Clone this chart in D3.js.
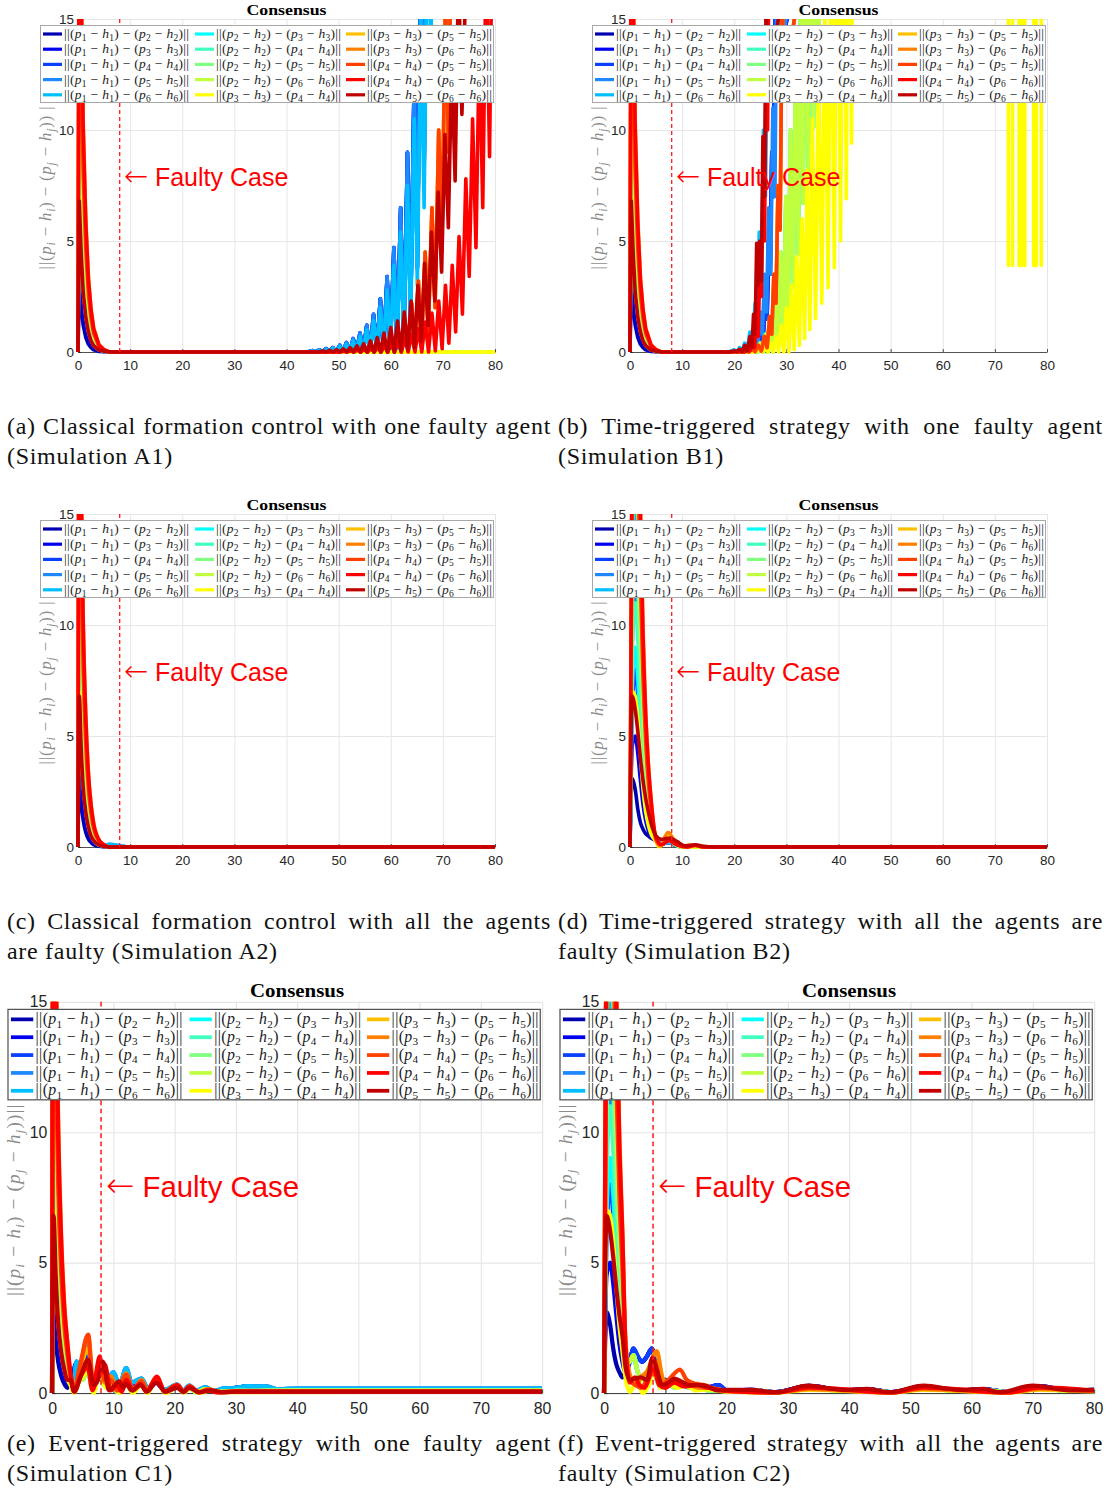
<!DOCTYPE html>
<html><head><meta charset="utf-8">
<script src="https://cdn.jsdelivr.net/npm/d3@7"></script>
<style>body{margin:0;background:#fff}svg{display:block}</style>
</head><body>
<svg id="fig" width="1118" height="1490"></svg>
<script>
// ---------------- DATA ----------------
const pairs = [[1,2],[1,3],[1,4],[1,5],[1,6],[2,3],[2,4],[2,5],[2,6],[3,4],[3,5],[3,6],[4,5],[4,6],[5,6]];
const seriesColors = ["#0000b0","#0000f0","#0a40ff","#1e88ff","#00bfff","#00ffff","#40ffc0","#80ff80","#c0ff40","#ffff00","#ffc000","#ff8000","#ff4000","#ff0000","#c00000"];
const xTicks = [0,10,20,30,40,50,60,70,80];
const yTicks = [0,5,10,15];
const faultTime = 8;

// initial transient (classical / time-triggered / event one-faulty)
const fastTimes = [0,0.25,0.6,1.0,1.5,2.0,2.5,3.0,4.0,5.0];
const fastValues = [
 [0,3.2,2.0,1.2,0.65,0.35,0.2,0.1,0.03,0.01],
 [0,5,3.3,2,1.15,0.65,0.38,0.21,0.07,0.02],
 [0,8,5.3,3.2,1.8,1.05,0.6,0.34,0.1,0.03],
 [0,12,7.9,4.8,2.8,1.6,0.9,0.5,0.16,0.05],
 [0,16,10.6,6.4,3.7,2.1,1.2,0.67,0.21,0.06],
 [0,9,5.9,3.6,2.1,1.2,0.68,0.38,0.12,0.04],
 [0,11,7.3,4.4,2.5,1.4,0.8,0.46,0.14,0.04],
 [0,14,9.2,5.6,3.2,1.8,1.05,0.59,0.18,0.06],
 [0,18,11.9,7.2,4.1,2.3,1.35,0.76,0.23,0.07],
 [0,7,4.6,2.8,1.6,0.9,0.53,0.29,0.09,0.03],
 [0,22,14.5,8.8,5.1,2.9,1.65,0.92,0.29,0.09],
 [0,26,17.2,10.4,6,3.4,1.95,1.1,0.34,0.1],
 [0,20,13.2,8,4.6,2.6,1.5,0.84,0.26,0.08],
 [0,25,16.5,10,5.75,3.25,1.9,1.05,0.33,0.1],
 [0,6.8,4.5,2.7,1.55,0.9,0.5,0.29,0.09,0.03]
];
// slower transient (all agents faulty cases)
const slowTimes = [0,0.4,1.0,1.5,2.0,2.5,3.0,3.5,4.0];
const slowValues = [
 [0,3.1,2.6,1.7,1.1,0.8,0.6,0.5,0.4],
 [0,4.5,5,4.2,3,1.9,1.2,0.75,0.45],
 [0,6,8,6.8,4.8,3,1.9,1.2,0.7],
 [0,9,12,10.2,7.2,4.6,2.9,1.8,1.1],
 [0,12,16,13.6,9.6,6.1,3.8,2.4,1.4],
 [0,6.8,9,7.6,5.4,3.4,2.2,1.35,0.8],
 [0,8.2,11,9.4,6.6,4.2,2.6,1.65,1.0],
 [0,10.5,14,11.9,8.4,5.3,3.4,2.1,1.26],
 [0,13.5,18,15.3,10.8,6.8,4.3,2.7,1.6],
 [0,7,6.8,5.8,4.1,2.6,1.6,1.0,0.6],
 [0,16.5,22,18.7,13.2,8.4,5.3,3.3,2.0],
 [0,19.5,26,22.1,15.6,9.9,6.2,3.9,2.3],
 [0,15,20,17,12,7.6,4.8,3.0,1.8],
 [0,18.8,25,21.3,15,9.5,6,3.75,2.25],
 [0,6.8,6.2,5.2,4.0,3.0,2.2,1.6,1.1]
];

// ---- (a) classical, one faulty agent ----
const tailA_zero = [[6,0],[80,0]];
const tailA_lightBlue = [[6,0],[44,0],[45.0,0.05],[45.6,0],[46.3,0.08],[46.9,0],[47.6,0.12],[48.2,0],[48.9,0.17],[49.5,0],[50.2,0.25],[50.8,0],[51.5,0.35],[52.1,0],[52.8,0.5],[53.4,0],[54.1,0.7],[54.7,0],[55.4,1.0],[56.0,0],[56.7,1.4],[57.3,0],[58.0,2.0],[58.6,0],[59.3,2.8],[59.9,0.05],[60.6,3.9],[61.2,0.1],[61.9,5.4],[62.5,0.3],[63.2,7.5],[63.8,1.0],[64.5,10.5],[65.1,3.0],[65.8,15],[66.4,6.5],[67.1,21],[67.7,13],[68.4,30],[69.0,25],[80,90]];
const tailA_blue = [[6,0],[44,0],[45.0,0.06],[45.6,0],[46.3,0.1],[46.9,0],[47.6,0.15],[48.2,0],[48.9,0.2],[49.5,0],[50.2,0.3],[50.8,0],[51.5,0.42],[52.1,0],[52.8,0.6],[53.4,0],[54.1,0.85],[54.7,0],[55.4,1.2],[56.0,0],[56.7,1.7],[57.3,0],[58.0,2.4],[58.6,0],[59.3,3.4],[59.9,0.05],[60.6,4.7],[61.2,0.1],[61.9,6.5],[62.5,0.4],[63.2,9],[63.8,1.3],[64.5,12.5],[65.1,3.8],[65.8,18],[66.4,8],[67.1,25],[67.7,16],[80,90]];
const tailA_orange = [[6,0],[50,0],[51.0,0.05],[51.6,0],[52.3,0.08],[52.9,0],[53.6,0.12],[54.2,0],[54.9,0.17],[55.5,0],[56.2,0.25],[56.8,0],[57.5,0.35],[58.1,0],[58.8,0.5],[59.4,0],[60.1,0.7],[60.7,0],[61.4,1.0],[62.0,0],[62.7,1.5],[63.3,0.05],[64.0,2.2],[64.6,0.1],[65.3,3.2],[65.9,0.3],[66.6,4.5],[67.2,0.8],[67.9,6.5],[68.5,2],[69.2,10],[69.8,4.5],[70.5,16],[71.1,9],[71.8,24],[72.4,18],[80,80]];
const tailA_red = [[6,0],[50,0],[51.0,0.03],[51.65,0],[52.3,0.05],[52.95,0],[53.6,0.08],[54.25,0],[54.9,0.11],[55.55,0],[56.2,0.15],[56.85,0],[57.5,0.2],[58.15,0],[58.8,0.27],[59.45,0],[60.1,0.36],[60.75,0],[61.4,0.48],[62.05,0],[62.7,0.62],[63.35,0],[64.0,0.8],[64.65,0],[65.3,1.05],[65.95,0],[66.6,1.35],[67.25,0],[67.9,1.75],[68.55,0.05],[69.2,2.3],[69.85,0.15],[70.5,3.0],[71.15,0.4],[71.8,3.9],[72.45,0.9],[73.1,5.2],[73.75,1.7],[74.4,7.8],[75.05,3.4],[75.7,10.5],[76.35,4.7],[77.0,14],[77.65,6.5],[78.3,18],[78.95,8.8],[79.6,22],[80,18]];
const tailA_darkRed = [[6,0],[46,0],[47.0,0.05],[47.65,0],[48.3,0.08],[48.95,0],[49.6,0.1],[50.25,0],[50.9,0.14],[51.55,0],[52.2,0.2],[52.85,0],[53.5,0.28],[54.15,0],[54.8,0.38],[55.45,0],[56.1,0.5],[56.75,0],[57.4,0.65],[58.05,0],[58.7,0.85],[59.35,0],[60.0,1.1],[60.65,0],[61.3,1.4],[61.95,0.05],[62.6,1.8],[63.25,0.1],[63.9,2.3],[64.55,0.2],[65.2,3.0],[65.85,0.5],[66.5,4.0],[67.15,1.2],[67.8,5.4],[68.45,2.3],[69.1,7.2],[69.75,3.6],[70.4,9.8],[71.05,5.6],[71.7,13],[72.35,7.7],[73.0,17],[73.65,10.7],[80,60]];

// ---- (b) time-triggered, one faulty agent ----
const tailB_darkBlue = [[6,0],[20,0],[21,0.05],[21.5,0],[22,0.12],[22.5,0],[23,0.25],[23.5,0.05],[24,0.5],[24.5,0.15],[25,1.0],[25.5,0.5],[26,2.5],[26.3,1.5],[26.6,5],[26.9,3.5],[27.2,9],[27.5,7],[27.8,15],[28.1,12],[80,90]];
const tailB_blue = [[6,0],[19,0],[20,0.05],[20.5,0],[21,0.1],[21.5,0],[22,0.2],[22.5,0.02],[23,0.4],[23.5,0.1],[24,0.9],[24.5,0.3],[25,1.8],[25.4,0.8],[25.8,3.5],[26.2,1.8],[26.6,6.5],[27,3.5],[27.4,11],[27.8,7],[28.2,18],[28.6,13],[80,90]];
const tailB_lightBlue = [[6,0],[19,0],[20,0.1],[20.5,0],[21,0.2],[21.5,0.02],[22,0.4],[22.5,0.1],[23,0.9],[23.5,0.3],[24,2.2],[24.4,1.0],[24.8,5.4],[25.2,3],[25.6,10],[26,7],[26.4,16],[26.8,12],[80,90]];
const tailB_yellowGreen = [[6,0],[22,0],[23,0.1],[23.5,0],[24,0.2],[24.5,0],[25,0.4],[25.5,0],[26,0.8],[26.4,0],[26.9,1.4],[27.4,0],[27.9,2.8],[28.4,0.2],[28.9,4.5],[29.4,0.6],[29.9,7],[30.3,1.5],[30.8,10],[31.3,2.9],[31.8,14],[32.3,4.4],[32.8,18],[33.2,6.7],[33.7,20],[34.2,8.0],[34.7,22],[35.2,10.1],[35.6,24],[36.1,10.9],[36.6,26],[37.1,16],[80,90]];
const tailB_yellow = [[6,0],[24,0],[25,0.1],[25.5,0],[26,0.2],[26.5,0],[27,0.4],[27.5,0],[28,0.7],[28.5,0],[29,1.2],[29.5,0],[30,2.0],[30.5,0],[31,3.0],[31.5,0.1],[32,4.3],[32.5,0.3],[33,6.0],[33.5,0.6],[34,8.2],[34.5,1.0],[35,10.5],[35.6,1.5],[36.2,13],[36.8,2.2],[37.4,16],[38.0,2.9],[38.6,20],[39.2,3.8],[39.8,24],[40.4,5.0],[41.0,28],[41.5,6.9],[42.0,32],[42.5,9.4],[43.0,36],[43.5,16],[44.0,40],
 [72.6,40],[72.6,3.9],[72.6,40],[73.4,40],[73.4,3.9],[73.4,40],
 [74.65,40],[74.65,3.9],[75.2,3.9],[75.2,40],[75.75,40],[75.75,3.9],[75.75,40],
 [77.45,40],[77.45,3.9],[77.95,3.9],[77.95,40],[78.9,40],[78.9,3.9],[78.9,40],[80,40]];
const tailB_orange = [[6,0],[20,0],[21,0.03],[21.6,0],[22.2,0.08],[22.8,0],[23.4,0.15],[24,0.02],[24.6,0.3],[25.2,0.05],[25.8,0.7],[26.3,0.2],[26.8,1.6],[27.2,0.8],[27.6,3.5],[28,2.2],[28.4,7.5],[28.8,5.5],[29.2,16],[29.6,12],[80,90]];
const tailB_red = [[6,0],[19.5,0],[20.5,0.05],[21,0],[21.5,0.1],[22,0],[22.5,0.25],[23,0.05],[23.5,0.6],[23.9,0.2],[24.3,1.5],[24.6,0.7],[24.9,3.8],[25.2,2.5],[25.5,7.5],[25.8,5],[26.1,13],[26.4,10],[26.7,20],[80,90]];
const tailB_darkRed = [[6,0],[19,0],[20,0.05],[20.5,0],[21,0.12],[21.5,0],[22,0.3],[22.5,0.05],[23,0.7],[23.4,0.2],[23.7,1.7],[24,0.8],[24.3,4.9],[24.6,3.0],[24.9,5.0],[25.2,3.2],[25.5,9.7],[25.8,7],[26.1,16],[26.4,12],[80,90]];

// ---- (c) classical, all agents faulty ----
const tailC_zero = [[6,0],[80,0]];
const tailC_blue = [[6,0.12],[7,0.1],[8,0.05],[9,0.02],[10,0],[80,0]];

// ---- (d) time-triggered, all agents faulty ----
const tailD_blue = [[5,0.3],[6,0.15],[7.5,0.2],[9,0.05],[10,0],[80,0]];
const tailD_green = [[5,0.35],[5.8,0.05],[7.2,0.45],[8.5,0.15],[10,0],[80,0]];
const tailD_yellow = [[5,0.25],[5.6,0],[7.3,0.55],[8.8,0.2],[10,0],[80,0]];
const tailD_orange = [[5,0.3],[5.8,0.05],[7.3,0.65],[8.5,0.3],[10,0.05],[12,0.08],[14,0.02],[16,0],[80,0]];
const tailD_red = [[5,0.4],[6,0.1],[7.5,0.3],[9,0.1],[11,0],[12.5,0.08],[14,0],[80,0]];
const tailD_darkRed = [[5,0.5],[6,0.35],[7.5,0.4],[9,0.25],[10.5,0.05],[12.5,0.1],[14,0.03],[16,0],[80,0]];

// ---- (e) event-triggered, one faulty agent ----
const tailE_darkBlue = [[3.0,0.75],[3.3,0.2],[3.8,1.1],[4.3,0.7],[5.0,1.1],[5.8,1.7],[6.5,0.3],[7.5,0.6],[8.3,1.0],[9.2,0.5],[10.0,0.75],[11.0,0.25],[12.1,0.85],[13.0,0.35],[14.6,0.5],[15.6,0.15],[17.0,0.4],[18.4,0.1],[20.4,0.3],[21.4,0.08],[22.4,0.25],[23.6,0.08],[25.0,0.2],[26.5,0.06],[28,0.15],[30,0.2],[32,0.25],[35,0.23],[37,0.12],[40,0.15],[80,0.15]];
const tailE_blue = [[3.0,0.5],[3.5,0.3],[4.0,1.2],[4.6,0.9],[5.2,1.6],[5.9,2.0],[6.6,0.4],[7.5,0.7],[8.3,1.1],[9.2,0.6],[10.0,0.8],[11.0,0.3],[12.1,0.95],[13.0,0.4],[14.6,0.55],[15.6,0.2],[17.0,0.45],[18.4,0.12],[20.4,0.32],[21.4,0.1],[22.4,0.28],[23.6,0.08],[25.0,0.22],[26.5,0.08],[28,0.18],[30,0.2],[32,0.26],[35,0.25],[37,0.14],[40,0.17],[80,0.17]];
const tailE_green = [[3.0,0.4],[3.5,0.1],[4.3,0.6],[5.0,0.5],[5.8,1.0],[6.6,0.1],[7.6,0.7],[8.5,0.3],[9.6,0.45],[10.6,0.05],[12,0.6],[13,0.1],[14.5,0.35],[15.5,0.05],[17,0.55],[18.5,0.05],[20.4,0.3],[21.4,0.03],[22.4,0.2],[23.5,0.03],[25,0.15],[27,0.05],[30,0.08],[40,0.1],[80,0.1]];
const tailE_yellow = [[3.0,0.3],[3.6,0],[4.5,0.5],[5.8,0.8],[6.8,0],[7.8,0.9],[8.8,0.2],[10,0.3],[11,0],[12,0.4],[13.2,0],[14.5,0.3],[15.6,0],[17,0.5],[18.5,0],[20.5,0.25],[21.5,0],[22.5,0.2],[24,0],[26,0.1],[28,0.03],[80,0.05]];
const tailE_amber = [[3.0,0.6],[3.6,0.1],[4.6,0.9],[5.9,1.7],[6.8,0.2],[7.8,1.2],[8.6,0.4],[9.6,0.6],[10.6,0.1],[12.1,0.7],[13.2,0.1],[14.6,0.45],[15.6,0.1],[17.1,0.5],[18.5,0.05],[20.4,0.3],[21.5,0.05],[22.4,0.25],[24,0.03],[25.5,0.15],[27,0.03],[30,0.05],[80,0.05]];
const tailE_orange = [[3.0,0.6],[3.6,0.15],[4.6,1.0],[5.9,2.2],[6.8,0.2],[7.8,1.3],[8.6,0.4],[9.6,0.65],[10.6,0.1],[12.1,0.75],[13.2,0.1],[14.6,0.5],[15.6,0.1],[17.1,0.55],[18.5,0.05],[20.4,0.3],[21.5,0.05],[22.4,0.25],[24,0.03],[25.5,0.15],[27,0.03],[30,0.05],[80,0.05]];
const tailE_redOrange = [[3.0,0.7],[3.6,0.2],[4.6,1.1],[5.9,2.24],[6.7,0.15],[7.8,1.25],[8.6,0.5],[9.6,0.5],[10.6,0.1],[12.1,0.7],[13.2,0.15],[14.6,0.45],[15.6,0.1],[17.1,0.55],[18.5,0.05],[20.4,0.3],[21.5,0.05],[22.4,0.25],[24,0.03],[25.5,0.12],[27,0.03],[30,0.05],[80,0.05]];
const tailE_red = [[3.0,0.8],[3.6,0.05],[4.8,0.7],[5.8,1.0],[6.6,0.1],[7.8,1.4],[8.2,0.8],[8.6,1.1],[9.6,0.1],[10.6,0.3],[11.4,0.05],[12.1,0.5],[13.2,0.1],[14.4,0.35],[15.4,0.05],[17.1,0.63],[18.4,0.05],[20.4,0.3],[21.5,0.05],[22.4,0.25],[24,0.02],[25.5,0.1],[27,0.02],[30,0.05],[80,0.05]];
const tailE_darkRed = [[3.0,0.5],[3.6,0.05],[4.6,0.6],[5.9,1.27],[6.8,0.3],[7.5,0.5],[8.3,1.2],[9.3,0.1],[11,0.45],[11.6,0.2],[12.1,0.35],[13,0.1],[14.5,0.3],[15.5,0.05],[17.0,0.4],[18.5,0.05],[20.4,0.2],[21.5,0.03],[22.4,0.2],[24,0.03],[26,0.1],[28,0.03],[30,0.05],[80,0.05]];

// ---- (f) event-triggered, all agents faulty ----
const tailF_blue = [[3.5,0.8],[4.2,1.2],[4.8,1.7],[5.5,1.4],[6.2,1.2],[7.0,1.4],[7.8,1.7],[8.5,0.9],[9.2,0.3],[10,0.5],[11,0.3],[12,0.4],[13.5,0.25],[15,0.3],[16.5,0.2],[18.7,0.3],[20,0.1],[24,0.12],[28,0.03],[33.5,0.27],[39,0.1],[43,0.15],[47,0.03],[52,0.25],[58,0.1],[62,0.15],[66,0.03],[71,0.26],[76,0.1],[80,0.12]];
const tailF_cyan = [[3.5,1.2],[4.2,1.2],[4.8,1.45],[5.5,0.8],[6.2,0.5],[7.0,0.8],[7.8,1.1],[8.5,0.6],[9.2,0.2],[10.5,0.4],[11.5,0.2],[12.5,0.45],[14,0.2],[15.5,0.25],[17,0.1],[20,0.1],[24,0.1],[28,0.02],[33.5,0.2],[39,0.08],[43,0.12],[47,0.02],[52,0.2],[58,0.08],[62,0.12],[66,0.02],[71,0.2],[76,0.08],[80,0.1]];
const tailF_yellow = [[3.5,0.6],[4.2,0.05],[5.5,0.5],[6.3,0.0],[7.3,0.3],[8.3,1.0],[9.2,0.2],[10.5,0.4],[12,0.2],[13.5,0.3],[15,0.1],[17,0.15],[20,0.05],[28,0.02],[33.5,0.12],[47,0.02],[52,0.12],[66,0.02],[71,0.12],[80,0.06]];
const tailF_orange = [[3.5,2.0],[4.2,0.7],[5.2,0.3],[6.0,0.6],[7.0,0.8],[8.6,1.6],[9.5,0.6],[10.5,0.3],[11.5,0.5],[12.5,0.35],[14,0.3],[15.5,0.2],[17,0.2],[20,0.08],[28,0.02],[33.5,0.15],[47,0.02],[52,0.15],[66,0.02],[71,0.15],[80,0.08]];
const tailF_redOrange = [[3.5,1.8],[4.2,0.5],[5.2,0.3],[6.0,0.2],[7.0,0.5],[8.3,1.2],[9.3,0.3],[10.5,0.5],[12.4,0.9],[13.5,0.5],[15,0.35],[16.5,0.3],[18,0.15],[20,0.08],[28,0.02],[33.5,0.2],[47,0.02],[52,0.2],[66,0.02],[71,0.2],[80,0.08]];
const tailF_red = [[3.5,1.8],[4.2,0.4],[5.0,0.6],[5.8,0.3],[6.6,0.2],[7.4,0.6],[8.0,1.0],[9.0,0.3],[10,0.2],[11.5,0.4],[13,0.25],[15,0.3],[17,0.2],[20,0.08],[28,0.02],[33.5,0.22],[47,0.02],[52,0.22],[66,0.02],[71,0.22],[80,0.1]];
const tailF_darkRed = [[3.5,1.0],[4.2,0.5],[5.0,0.55],[6.0,0.6],[7.0,0.5],[7.9,1.35],[8.6,0.9],[9.5,0.3],[10.5,0.4],[11.5,0.55],[12.5,0.45],[14,0.3],[15.5,0.3],[17,0.25],[18.5,0.1],[20,0.12],[24,0.12],[28,0.03],[33.3,0.28],[39,0.12],[43,0.16],[46.5,0.03],[52.2,0.28],[58,0.12],[62,0.16],[64.5,0.03],[70,0.28],[76,0.1],[80,0.12]];

// which tail each of the 15 series uses, per panel
const tailsA = [tailA_blue,tailA_blue,tailA_blue,tailA_blue,tailA_lightBlue,tailA_zero,tailA_zero,tailA_zero,tailA_zero,tailA_zero,tailA_orange,tailA_orange,tailA_orange,tailA_red,tailA_darkRed];
const tailsB = [tailB_darkBlue,tailB_darkBlue,tailB_darkBlue,tailB_blue,tailB_lightBlue,tailB_yellowGreen,tailB_yellowGreen,tailB_yellowGreen,tailB_yellowGreen,tailB_yellow,tailB_orange,tailB_orange,tailB_orange,tailB_red,tailB_darkRed];
const tailsC = [tailC_zero,tailC_zero,tailC_zero,tailC_blue,tailC_blue,tailC_zero,tailC_zero,tailC_zero,tailC_zero,tailC_zero,tailC_zero,tailC_zero,tailC_zero,tailC_zero,tailC_zero];
const tailsD = [tailD_blue,tailD_blue,tailD_blue,tailD_blue,tailD_blue,tailD_green,tailD_green,tailD_green,tailD_green,tailD_yellow,tailD_orange,tailD_orange,tailD_red,tailD_red,tailD_darkRed];
const tailsE = [tailE_darkBlue,tailE_darkBlue,tailE_blue,tailE_blue,tailE_blue,tailE_green,tailE_green,tailE_green,tailE_green,tailE_yellow,tailE_amber,tailE_orange,tailE_redOrange,tailE_red,tailE_darkRed];
const tailsF = [tailF_blue,tailF_blue,tailF_blue,tailF_cyan,tailF_cyan,tailF_cyan,tailF_cyan,tailF_cyan,tailF_cyan,tailF_yellow,tailF_orange,tailF_orange,tailF_redOrange,tailF_red,tailF_darkRed];

const captionLines = [
 ["(a) Classical formation control with one faulty agent","(Simulation A1)"],
 ["(b) Time-triggered strategy with one faulty agent","(Simulation B1)"],
 ["(c) Classical formation control with all the agents","are faulty (Simulation A2)"],
 ["(d) Time-triggered strategy with all the agents are","faulty (Simulation B2)"],
 ["(e) Event-triggered strategy with one faulty agent","(Simulation C1)"],
 ["(f) Event-triggered strategy with all the agents are","faulty (Simulation C2)"]
];
const titleText = "Consensus";
const faultyText = "Faulty Case";

// ---------------- LAYOUT ----------------
const panels = [
 {tails:tailsA, kind:"fast", cut:5,   curve:d3.curveLinear,    tf:"translate(0,0)",            border:"#a8a8a8", yl:"a"},
 {tails:tailsB, kind:"fast", cut:5,   curve:d3.curveLinear,    tf:"translate(552,0)",          border:"#a8a8a8", yl:"a"},
 {tails:tailsC, kind:"fast", cut:5,   curve:d3.curveMonotoneX, tf:"translate(0,495)",          border:"#a8a8a8", yl:"a"},
 {tails:tailsD, kind:"slow", cut:4,   curve:d3.curveMonotoneX, tf:"translate(552,495)",        border:"#a8a8a8", yl:"a"},
 {tails:tailsE, kind:"fast", cut:2.5, curve:d3.curveMonotoneX, tf:"translate(-39.6,979.4) scale(1.175)", border:"#4a4a4a", yl:"e"},
 {tails:tailsF, kind:"slow", cut:3,   curve:d3.curveMonotoneX, tf:"translate(512.4,979.4) scale(1.175)", border:"#4a4a4a", yl:"e"}
];
const X0=78, X1=495, Y0=352, Y15=19;
const x = d3.scaleLinear().domain([0,80]).range([X0,X1]);
const y = d3.scaleLinear().domain([0,15]).range([Y0,Y15]);
const svg = d3.select("#fig");
const AX = "#262626";
const SERIF = "'Liberation Serif', 'Times New Roman', serif";
const SANS = "'Liberation Sans', Arial, sans-serif";

function mathText(sel, tokens, sub){
  let down=false;
  tokens.forEach(([s,type])=>{
    const ts = sel.append("tspan").text(s);
    if(type===1||type===3) ts.attr("font-style","italic");
    if(type===2||type===3){ ts.attr("font-size", sub.size); if(!down){ts.attr("dy",sub.dy); down=true;} }
    else if(down){ ts.attr("dy",-sub.dy); down=false; }
  });
}

panels.forEach((p,pi)=>{
  const g = svg.append("g").attr("transform",p.tf);
  const cid = "clip"+pi;
  g.append("clipPath").attr("id",cid).append("rect")
    .attr("x",X0-3).attr("y",Y15).attr("width",X1-X0+6).attr("height",Y0-Y15+3);

  // grid
  const gx = g.append("g").attr("transform",`translate(0,${Y0})`)
    .call(d3.axisBottom(x).tickValues(xTicks.slice(1)).tickSize(-(Y0-Y15)).tickFormat(""));
  gx.select(".domain").remove(); gx.selectAll("line").attr("stroke","#e6e6e6");
  const gy = g.append("g").attr("transform",`translate(${X0},0)`)
    .call(d3.axisLeft(y).tickValues(yTicks.slice(1)).tickSize(-(X1-X0)).tickFormat(""));
  gy.select(".domain").remove(); gy.selectAll("line").attr("stroke","#e6e6e6");

  // axes
  const ax = g.append("g").attr("transform",`translate(0,${Y0})`)
    .call(d3.axisBottom(x).tickValues(xTicks).tickSizeInner(-3).tickSizeOuter(0).tickPadding(8));
  const ay = g.append("g").attr("transform",`translate(${X0},0)`)
    .call(d3.axisLeft(y).tickValues(yTicks).tickSizeInner(-3).tickSizeOuter(0).tickPadding(4));
  [ax,ay].forEach(a=>{
    a.select(".domain").attr("stroke",AX).attr("stroke-width",0.8);
    a.selectAll(".tick line").attr("stroke",AX).attr("stroke-width",0.8);
    a.selectAll("text").attr("font-family",SANS).attr("font-size",13.5).attr("fill",AX);
  });

  // series
  const times = p.kind==="fast"?fastTimes:slowTimes;
  const vals = p.kind==="fast"?fastValues:slowValues;
  const line = d3.line().x(d=>x(d[0])).y(d=>y(d[1])).curve(p.curve);
  const data = pairs.map((pr,k)=>{
    const pts=[]; times.forEach((t,i)=>{ if(t<=p.cut) pts.push([t,vals[k][i]]); });
    return pts.concat(p.tails[k]);
  });
  const lg = g.append("g").attr("clip-path",`url(#${cid})`);
  lg.selectAll("path").data(data).join("path")
    .attr("d",line).attr("fill","none")
    .attr("stroke",(d,k)=>seriesColors[k]).attr("stroke-width",3.6)
    .attr("stroke-linejoin","round").attr("stroke-linecap","butt");

  // fault marker
  g.append("line").attr("x1",x(faultTime)).attr("x2",x(faultTime)).attr("y1",y(0)).attr("y2",y(15))
    .attr("stroke","#ff1a1a").attr("stroke-width",1.3).attr("stroke-dasharray","4,3");
  const ft = g.append("text").attr("x",x(faultTime)+4).attr("y",y(7.9)+9)
    .attr("font-family",SANS).attr("font-size",25).attr("fill","#ff0000");
  ft.append("tspan").attr("font-family","'DejaVu Sans', sans-serif").attr("font-size",29).attr("font-weight",200).text("\u2190");
  ft.append("tspan").text(" "+faultyText);

  // title
  g.append("text").attr("x",(X0+X1)/2).attr("y",15).attr("text-anchor","middle")
    .attr("font-family",SERIF).attr("font-weight","bold")
    .attr("font-size",15.5).attr("fill","#000").attr("textLength",80).attr("lengthAdjust","spacingAndGlyphs")
    .text(titleText);

  // y label
  const ylab = g.append("text").attr("transform","translate(51,188) rotate(-90)").attr("text-anchor","middle")
    .attr("font-family",SERIF).attr("font-size",16.5).attr("fill","#8c8c8c")
    .attr("textLength",163).attr("lengthAdjust","spacing");
  const endTok = p.yl==="e" ? "))||" : ")) |";
  mathText(ylab, [["||(",0],["p",1],["i",3],[" \u2212 ",0],["h",1],["i",3],[") \u2212 (",0],["p",1],["j",3],[" \u2212 ",0],["h",1],["j",3],[endTok,0]], {size:"11.5px",dy:3.5});

  // legend
  const leg = g.append("g");
  leg.append("rect").attr("x",40.5).attr("y",25.5).attr("width",453).attr("height",77)
    .attr("fill","#fff").attr("stroke",p.border).attr("stroke-width",1);
  const colX = [43,195,346];
  pairs.forEach((pr,k)=>{
    const c=Math.floor(k/5), r=k%5;
    const cy = 34 + r*15.2;
    leg.append("line").attr("x1",colX[c]).attr("x2",colX[c]+19).attr("y1",cy).attr("y2",cy)
      .attr("stroke",seriesColors[k]).attr("stroke-width",3.2);
    const t = leg.append("text").attr("x",colX[c]+21).attr("y",cy+4)
      .attr("font-family",SERIF).attr("font-size",13.5).attr("fill","#1a1a1a")
      .attr("textLength",125).attr("lengthAdjust","spacing");
    mathText(t, [["||(",0],["p",1],[String(pr[0]),2],[" \u2212 ",0],["h",1],[String(pr[0]),2],[") \u2212 (",0],["p",1],[String(pr[1]),2],[" \u2212 ",0],["h",1],[String(pr[1]),2],[")||",0]], {size:"9.5px",dy:3});
  });
});

// captions (first line justified through word spacing)
const capX = [7,558,7,558,7,558];
const capY = [434,434,929,929,1451,1451];
const capW = [544,545,544,545,544,545];
captionLines.forEach((lines,i)=>{
  lines.forEach((s,j)=>{
    const t = svg.append("text").attr("x",capX[i]).attr("y",capY[i]+j*29.5)
      .attr("font-family",SERIF).attr("font-size",24).attr("letter-spacing",0.7).attr("fill","#111").text(s);
    if(j===0){
      const nat = t.node().getComputedTextLength();
      const spaces = (s.match(/ /g)||[]).length;
      if(nat < capW[i]) t.attr("word-spacing",(capW[i]-nat)/spaces);
      else t.attr("textLength",capW[i]).attr("lengthAdjust","spacingAndGlyphs");
    }
  });
});
</script>
</body></html>
